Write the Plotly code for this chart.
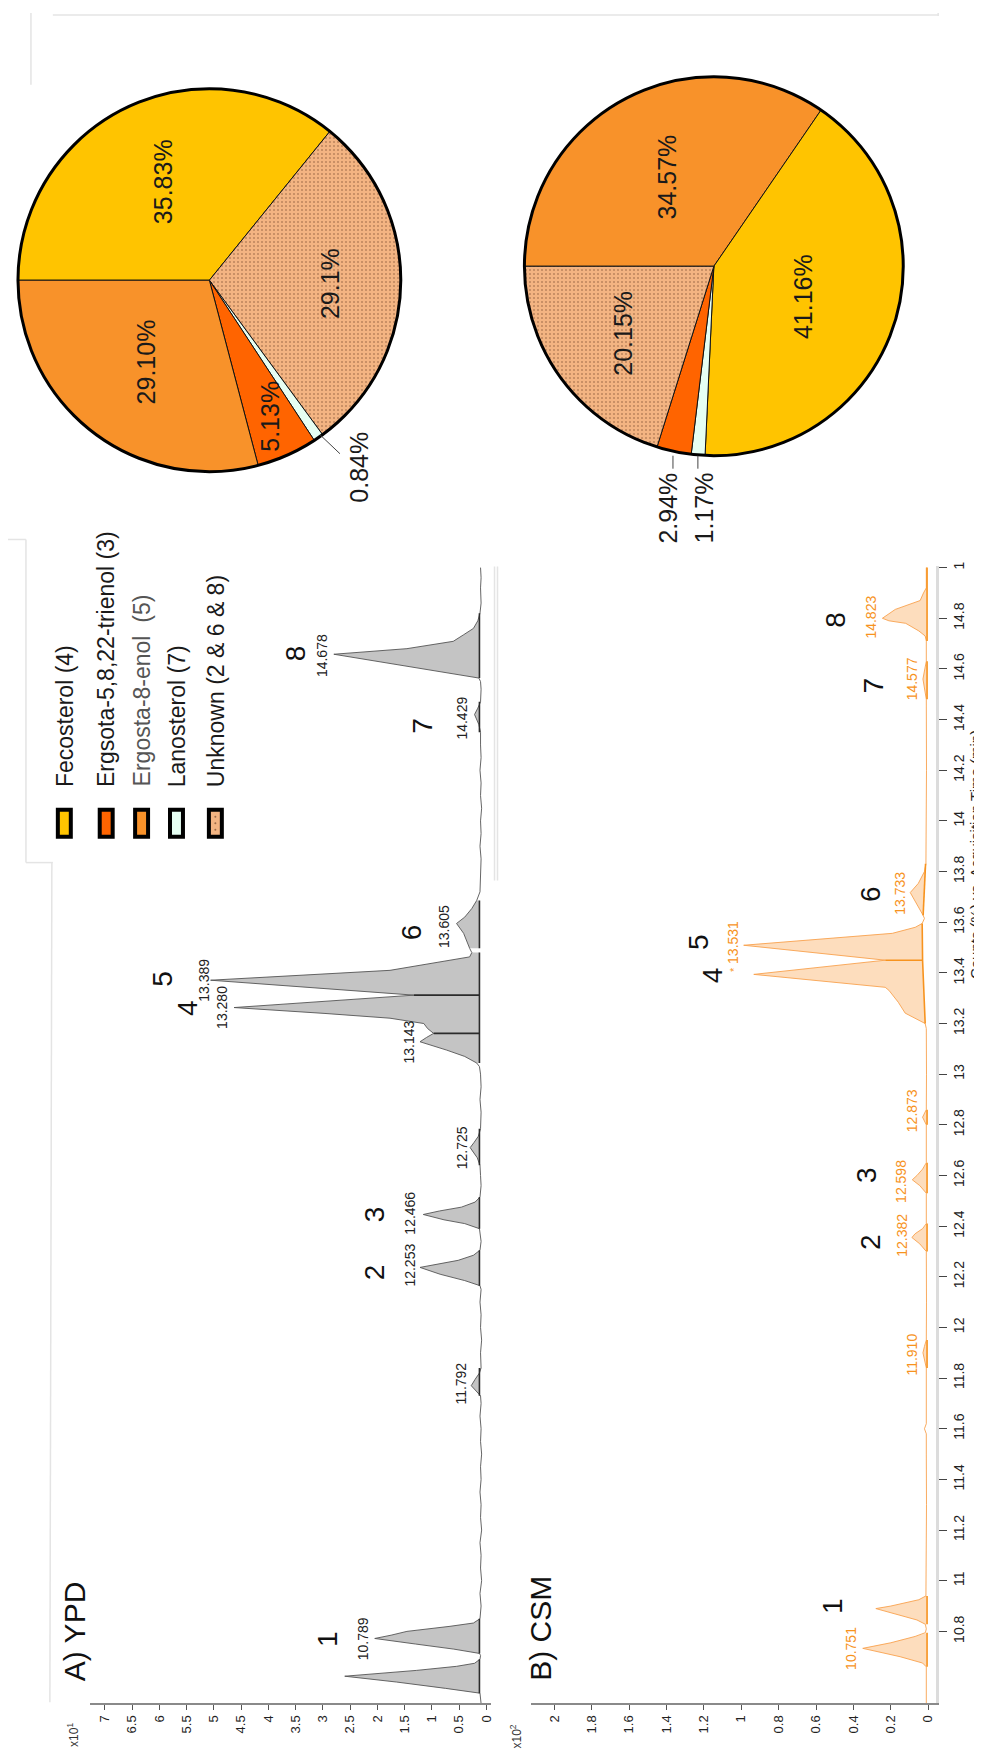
import math
import plotly.graph_objects as go

W, H = 982, 1757
FONT = "Liberation Sans, Arial, Helvetica, sans-serif"

# ---------------- pie data ----------------
PIE_LABELS = ["Fecosterol (4)", "Ergsota-5,8,22-trienol (3)", "Ergosta-8-enol\u00a0 (5)",
              "Lanosterol (7)", "Unknown (2 & 6 & 8)"]
PIE_COLORS = ["#FFC400", "#FF6400", "#F8922A", "#E6FFF3", "#F3B482"]
PIE_PATTERN = ["", "", "", "", "."]
LEGEND_TEXT_COLORS = ["#1a1a1a", "#1a1a1a", "#555555", "#1a1a1a", "#1a1a1a"]

YPD_PIE_ORDER = [0, 4, 3, 1, 2]
YPD_PIE_VALUES = [35.83, 29.1, 0.84, 5.13, 29.10]
YPD_PIE_TEXT = ["35.83%", "29.1%", "0.84%", "5.13%", "29.10%"]

CSM_PIE_ORDER = [2, 0, 3, 1, 4]
CSM_PIE_VALUES = [34.57, 41.16, 1.17, 2.94, 20.15]
CSM_PIE_TEXT = ["34.57%", "41.16%", "1.17%", "2.94%", "20.15%"]

# ---------------- chromatogram data (time in min, counts) ----------------
YPD_TIME = [10.515, 10.54, 10.556, 10.575, 10.60, 10.623, 10.635, 10.646, 10.662, 10.674, 10.69,
            10.705, 10.713, 10.73, 10.75, 10.772, 10.785, 10.80, 10.82, 10.833, 10.85,
            10.90, 10.95, 11.00, 11.05, 11.10, 11.15, 11.20, 11.25, 11.30, 11.35, 11.40, 11.45,
            11.50, 11.55, 11.60, 11.65, 11.70, 11.73, 11.75, 11.77, 11.795, 11.82, 11.84,
            11.90, 11.95, 12.00, 12.05, 12.10, 12.15, 12.165, 12.185, 12.21, 12.237, 12.25,
            12.265, 12.285, 12.305, 12.34, 12.37, 12.39, 12.41, 12.425, 12.446, 12.46, 12.475,
            12.495, 12.515, 12.56, 12.60, 12.64, 12.67, 12.695, 12.71, 12.73, 12.755, 12.785,
            12.85, 12.90, 12.95, 13.00, 13.03, 13.044, 13.07, 13.095, 13.128, 13.145, 13.161,
            13.18, 13.20, 13.221, 13.24, 13.263, 13.312, 13.371, 13.41, 13.463, 13.48, 13.497,
            13.556, 13.595, 13.62, 13.654, 13.686, 13.72, 13.78, 13.85, 13.90, 13.95, 14.00,
            14.05, 14.10, 14.15, 14.20, 14.25, 14.30, 14.35, 14.38, 14.42, 14.445, 14.47,
            14.52, 14.55, 14.564, 14.61, 14.658, 14.68, 14.709, 14.735, 14.76, 14.79, 14.82,
            14.86, 14.92, 14.96, 15.00]
YPD_COUNTS = [0.10, 0.11, 0.12, 0.75, 1.65, 2.60, 1.90, 1.28, 0.55, 0.22, 0.12,
              0.11, 0.13, 0.60, 1.30, 2.05, 1.75, 1.46, 0.67, 0.24, 0.12,
              0.10, 0.12, 0.09, 0.11, 0.10, 0.12, 0.09, 0.11, 0.10, 0.12, 0.10, 0.11,
              0.09, 0.11, 0.10, 0.12, 0.10, 0.11, 0.19, 0.28, 0.21, 0.13, 0.10,
              0.11, 0.09, 0.11, 0.10, 0.12, 0.10, 0.12, 0.40, 0.85, 1.22, 0.92,
              0.52, 0.24, 0.12, 0.10, 0.11, 0.13, 0.40, 0.78, 1.16, 0.86, 0.46,
              0.21, 0.12, 0.10, 0.11, 0.12, 0.17, 0.26, 0.30, 0.23, 0.15, 0.11,
              0.10, 0.12, 0.10, 0.11, 0.13, 0.18, 0.40, 0.73, 1.22, 1.10, 0.97,
              1.08, 1.15, 1.77, 2.98, 4.63, 1.33, 5.06, 1.77, 0.31, 0.27, 0.31,
              0.42, 0.55, 0.40, 0.27, 0.18, 0.12, 0.11, 0.10, 0.12, 0.10, 0.11,
              0.09, 0.11, 0.10, 0.12, 0.10, 0.11, 0.11, 0.14, 0.22, 0.16, 0.11,
              0.10, 0.11, 0.14, 1.46, 2.80, 1.46, 0.61, 0.42, 0.24, 0.16, 0.12,
              0.10, 0.11, 0.10, 0.11]

CSM_TIME = [10.515, 10.60, 10.66, 10.675, 10.70, 10.733, 10.745, 10.755, 10.78, 10.795, 10.81,
            10.828, 10.845, 10.868, 10.89, 10.90, 10.912, 10.925, 10.94, 11.10, 11.30, 11.50,
            11.58, 11.60, 11.62, 11.84, 11.875, 11.90, 11.925, 11.95, 12.10, 12.30, 12.33,
            12.355, 12.37, 12.39, 12.41, 12.53, 12.56, 12.583, 12.60, 12.625, 12.65, 12.80,
            12.83, 12.86, 13.00, 13.18, 13.20, 13.241, 13.284, 13.331, 13.343, 13.394, 13.45,
            13.509, 13.556, 13.58, 13.595, 13.615, 13.627, 13.67, 13.717, 13.753, 13.80,
            13.831, 14.00, 14.20, 14.48, 14.52, 14.56, 14.60, 14.63, 14.71, 14.73, 14.75,
            14.78, 14.79, 14.80, 14.835, 14.87, 14.90, 14.92, 15.00]
CSM_COUNTS = [0.010, 0.008, 0.010, 0.030, 0.150, 0.350, 0.270, 0.200, 0.070, 0.015, 0.010,
              0.015, 0.060, 0.170, 0.280, 0.200, 0.120, 0.050, 0.012, 0.010, 0.009, 0.010,
              0.010, 0.020, 0.010, 0.010, 0.020, 0.028, 0.020, 0.010, 0.009, 0.010, 0.045,
              0.087, 0.070, 0.030, 0.010, 0.010, 0.045, 0.085, 0.060, 0.030, 0.010, 0.010,
              0.030, 0.010, 0.009, 0.010, 0.016, 0.123, 0.160, 0.210, 0.230, 0.933, 0.229,
              0.987, 0.192, 0.069, 0.032, 0.020, 0.027, 0.060, 0.096, 0.053, 0.020,
              0.012, 0.010, 0.009, 0.010, 0.018, 0.028, 0.018, 0.010, 0.010, 0.016, 0.050,
              0.120, 0.210, 0.245, 0.176, 0.043, 0.025, 0.010, 0.010]

# integration baselines: lists of (time, counts) vertices
YPD_BASE = [[(10.556, 0.13), (10.69, 0.13)], [(10.713, 0.13), (10.85, 0.13)],
            [(11.73, 0.13), (11.84, 0.13)], [(12.165, 0.13), (12.305, 0.13)],
            [(12.39, 0.13), (12.515, 0.13)], [(12.64, 0.13), (12.785, 0.13)],
            [(13.044, 0.13), (13.48, 0.13)], [(13.497, 0.13), (13.686, 0.13)],
            [(14.35, 0.13), (14.47, 0.13)], [(14.564, 0.13), (14.82, 0.13)]]
YPD_DROPS = [(13.161, 0.13, 0.97), (13.312, 0.13, 1.33)]
CSM_BASE = [[(10.66, 0.006), (10.795, 0.006)], [(10.828, 0.006), (10.94, 0.006)],
            [(11.84, 0.006), (11.95, 0.006)], [(12.30, 0.006), (12.41, 0.006)],
            [(12.53, 0.006), (12.65, 0.006)], [(12.80, 0.006), (12.86, 0.006)],
            [(13.20, 0.016), (13.45, 0.030), (13.595, 0.032)],
            [(13.627, 0.027), (13.831, 0.014)],
            [(14.48, 0.006), (14.63, 0.006)], [(14.71, 0.006), (15.00, 0.006)]]
CSM_DROPS = [(13.45, 0.03, 0.229)]

# peak labels
PEAK_NUMBERS = ["1", "2", "3", "4", "5", "6", "7", "8"]
YPD_NUM_C = [2.93, 2.05, 2.05, 5.48, 5.94, 1.37, 1.17, 3.51]
YPD_NUM_T = [10.769, 12.217, 12.446, 13.26, 13.375, 13.56, 14.375, 14.662]
YPD_RT_TEXT = ["10.789", "11.792", "12.253", "12.466", "12.725", "13.143", "13.280", "13.389",
               "13.605", "14.429", "14.678"]
YPD_RT_C = [2.25, 0.46, 1.40, 1.40, 0.46, 1.43, 4.84, 5.17, 0.79, 0.44, 3.02]
YPD_RT_T = [10.772, 11.780, 12.245, 12.450, 12.709, 13.127, 13.264, 13.371, 13.583, 14.406, 14.654]

CSM_NUM_C = [0.512, 0.309, 0.331, 1.157, 1.232, 0.309, 0.293, 0.496]
CSM_NUM_T = [10.902, 12.339, 12.603, 13.39, 13.521, 13.713, 14.536, 14.796]
CSM_RT_TEXT = ["10.751", "11.910", "12.382", "12.598", "12.873",
               "<span style='font-size:11px'>*</span> 13.531", "13.733", "14.577", "14.823"]
CSM_RT_C = [0.41, 0.085, 0.144, 0.149, 0.085, 1.045, 0.155, 0.085, 0.304]
CSM_RT_T = [10.733, 11.894, 12.363, 12.576, 12.855, 13.505, 13.713, 14.56, 14.804]

# axis ticks
TIME_TICKS = [10.8, 11.0, 11.2, 11.4, 11.6, 11.8, 12.0, 12.2, 12.4, 12.6, 12.8,
              13.0, 13.2, 13.4, 13.6, 13.8, 14.0, 14.2, 14.4, 14.6, 14.8, 15.0]
TIME_TICK_TEXT = ["10.8", "11", "11.2", "11.4", "11.6", "11.8", "12", "12.2", "12.4", "12.6",
                  "12.8", "13", "13.2", "13.4", "13.6", "13.8", "14", "14.2", "14.4", "14.6",
                  "14.8", "1"]
YPD_COUNT_TICKS = [0, 0.5, 1, 1.5, 2, 2.5, 3, 3.5, 4, 4.5, 5, 5.5, 6, 6.5, 7]
YPD_COUNT_TEXT = ["0", "0.5", "1", "1.5", "2", "2.5", "3", "3.5", "4", "4.5", "5", "5.5", "6", "6.5", "7"]
CSM_COUNT_TICKS = [0, 0.2, 0.4, 0.6, 0.8, 1.0, 1.2, 1.4, 1.6, 1.8, 2.0]
CSM_COUNT_TEXT = ["0", "0.2", "0.4", "0.6", "0.8", "1", "1.2", "1.4", "1.6", "1.8", "2"]

YPD_FILL, YPD_LINE, YPD_BASE_COLOR = "#C4C4C4", "#555555", "#2b2b2b"
CSM_FILL, CSM_LINE, CSM_BASE_COLOR = "#FDDDBD", "#F8A24E", "#F7931E"


def px(x):
    return x / W


def py(y):
    return 1 - y / H


fig = go.Figure()
annotations = []
shapes = []

# ---------------- chromatograms ----------------
T_LO = 10.8 + (1623 - 1695) / 254.0
T_HI = 10.8 + (1623 - 555) / 254.0


def add_chrom(times, counts, bases, drops, fill, line, base_color, xa, ya):
    for base in bases:
        t0, t1 = base[0][0], base[-1][0]
        pts = [(t, c) for t, c in zip(times, counts) if t0 <= t <= t1]
        poly = pts + base[::-1]
        fig.add_trace(go.Scatter(x=[p[1] for p in poly], y=[p[0] for p in poly], mode="lines",
                                 fill="toself", fillcolor=fill, line=dict(width=0),
                                 xaxis=xa, yaxis=ya, hoverinfo="skip", showlegend=False))
    fig.add_trace(go.Scatter(x=counts, y=times, mode="lines", line=dict(color=line, width=0.9),
                             xaxis=xa, yaxis=ya, hoverinfo="skip", showlegend=False))
    bx, by = [], []
    for base in bases:
        bx += [p[1] for p in base] + [None]
        by += [p[0] for p in base] + [None]
    for t, c0, c in drops:
        bx += [c0, c, None]
        by += [t, t, None]
    fig.add_trace(go.Scatter(x=bx, y=by, mode="lines", line=dict(color=base_color, width=1.6),
                             xaxis=xa, yaxis=ya, hoverinfo="skip", showlegend=False,
                             connectgaps=False))


add_chrom(YPD_TIME, YPD_COUNTS, YPD_BASE, YPD_DROPS, YPD_FILL, YPD_LINE, YPD_BASE_COLOR, "x", "y")
add_chrom(CSM_TIME, CSM_COUNTS, CSM_BASE, CSM_DROPS, CSM_FILL, CSM_LINE, CSM_BASE_COLOR, "x2", "y2")


def rot_text(x, y, text, size, color, xref="paper", yref="paper", xanchor="center", yanchor="middle"):
    annotations.append(dict(x=x, y=y, xref=xref, yref=yref, text=text, textangle=-90,
                            showarrow=False, xanchor=xanchor, yanchor=yanchor,
                            font=dict(size=size, color=color, family=FONT)))


for n, c, t in zip(PEAK_NUMBERS, YPD_NUM_C, YPD_NUM_T):
    rot_text(c, t, n, 28, "#111111", "x", "y")
for s, c, t in zip(YPD_RT_TEXT, YPD_RT_C, YPD_RT_T):
    rot_text(c, t, s, 14, "#222222", "x", "y")
for n, c, t in zip(PEAK_NUMBERS, CSM_NUM_C, CSM_NUM_T):
    rot_text(c, t, n, 28, "#111111", "x2", "y2")
for s, c, t in zip(CSM_RT_TEXT, CSM_RT_C, CSM_RT_T):
    rot_text(c, t, s, 14, "#F7931E", "x2", "y2")

rot_text(px(67), py(1623), "A) YPD", 30, "#111111")
rot_text(px(534), py(1620), "B) CSM", 30, "#111111")
rot_text(px(65), py(1727), "x10<sup>1</sup>", 12, "#333333")
rot_text(px(510), py(1728), "x10<sup>2</sup>", 12, "#333333")
rot_text(px(981), py(844), "Counts (%) vs. Acquisition Time (min)", 15, "#222222", xanchor="right")

# ---------------- pies ----------------
YPD_PIE_GEOM = (202, 268, 192)
CSM_PIE_GEOM = (708, 254, 190)
YPD_LABEL_R = [0.57, 0.63, None, 0.78, 0.54]
CSM_LABEL_R = [0.53, 0.50, None, None, 0.60]
YPD_OUTSIDE = {"0.84%": (352, 455)}
CSM_OUTSIDE = {"1.17%": (698, 496), "2.94%": (662, 496)}


def add_pie(values, order, texts, radii, geom, outside):
    cx, cy, R = geom
    fig.add_trace(go.Pie(
        values=values, labels=[PIE_LABELS[i] for i in order], sort=False,
        direction="clockwise", rotation=270, textinfo="none", hoverinfo="skip",
        showlegend=False,
        marker=dict(colors=[PIE_COLORS[i] for i in order], line=dict(color="#111111", width=1),
                    pattern=dict(shape=[PIE_PATTERN[i] for i in order], fillmode="overlay",
                                 fgcolor="#8a5a3a", size=4, solidity=0.22)),
        domain=dict(x=[px(cx - R), px(cx + R)], y=[py(cy + R), py(cy - R)])))
    shapes.append(dict(type="circle", xref="paper", yref="paper", x0=px(cx - R), x1=px(cx + R),
                       y0=py(cy + R), y1=py(cy - R), line=dict(color="#000000", width=3)))
    total = sum(values)
    cum = 0.0
    for v, t, f in zip(values, texts, radii):
        mid = math.radians(180 - 360 * (cum + v / 2) / total)
        cum += v
        if f is None:
            x, y = outside[t]
        else:
            x, y = cx + f * R * math.cos(mid), cy - f * R * math.sin(mid)
        rot_text(px(x), py(y), t, 25, "#1a1a1a")


add_pie(YPD_PIE_VALUES, YPD_PIE_ORDER, YPD_PIE_TEXT, YPD_LABEL_R, YPD_PIE_GEOM, YPD_OUTSIDE)
add_pie(CSM_PIE_VALUES, CSM_PIE_ORDER, CSM_PIE_TEXT, CSM_LABEL_R, CSM_PIE_GEOM, CSM_OUTSIDE)

# leader lines for the small slices
for (x0, y0, x1, y1) in [(313, 423, 333, 442), (667, 444, 667, 457), (692, 444, 692, 457)]:
    shapes.append(dict(type="line", xref="paper", yref="paper", x0=px(x0), y0=py(y0),
                       x1=px(x1), y1=py(y1), line=dict(color="#444444", width=1)))

# ---------------- legend (rotated) ----------------
LEGEND_X = [56.5, 98.5, 134, 169, 208]
for i, lx in enumerate(LEGEND_X):
    shapes.append(dict(type="rect", xref="paper", yref="paper", x0=px(lx - 6.5), x1=px(lx + 6.5),
                       y0=py(826), y1=py(799), fillcolor=PIE_COLORS[i],
                       line=dict(color="#000000", width=4)))
    rot_text(px(lx), py(778), PIE_LABELS[i], 23, LEGEND_TEXT_COLORS[i], yanchor="bottom")
# dots on the "Unknown" swatch
for yy in [806, 812.5, 819]:
    shapes.append(dict(type="circle", xref="paper", yref="paper", x0=px(207), x1=px(209),
                       y0=py(yy + 1), y1=py(yy - 1), fillcolor="#9a6a48", line=dict(width=0)))

# faint frame lines
for (x0, y0, x1, y1) in [(45, 2, 933, 2), (23, 0, 23, 72), (18, 528, 18, 852), (0, 528, 18, 528),
                         (18, 852, 45, 852), (44, 852, 42, 1694), (488, 555, 488, 870),
                         (491, 555, 491, 870), (933, 0, 933, 3)]:
    shapes.append(dict(type="line", xref="paper", yref="paper", x0=px(x0), y0=py(y0),
                       x1=px(x1), y1=py(y1), line=dict(color="#E4E4E4", width=1.5)))

axis_common = dict(showgrid=False, zeroline=False, fixedrange=True)
fig.update_layout(
    width=W, height=H, margin=dict(l=0, r=0, t=0, b=0),
    paper_bgcolor="white", plot_bgcolor="rgba(0,0,0,0)", showlegend=False,
    font=dict(family=FONT, color="#222222"),
    xaxis=dict(domain=[px(82), px(484)], range=[(480 - 82) / 54.7, (480 - 484) / 54.7],
               anchor="y", showline=True, linecolor="#8a8a8a", linewidth=2, ticks="outside",
               ticklen=5, tickcolor="#555555", tickvals=YPD_COUNT_TICKS, ticktext=YPD_COUNT_TEXT,
               tickangle=-90, tickfont=dict(size=13, color="#222222"), **axis_common),
    yaxis=dict(domain=[py(1695), py(555)], range=[T_LO, T_HI], anchor="x", visible=False,
               **axis_common),
    xaxis2=dict(domain=[px(525), px(931)], range=[(923 - 525) / 187.5, (923 - 931) / 187.5],
                anchor="y2", showline=True, linecolor="#8a8a8a", linewidth=2, ticks="outside",
                ticklen=5, tickcolor="#555555", tickvals=CSM_COUNT_TICKS, ticktext=CSM_COUNT_TEXT,
                tickangle=-90, tickfont=dict(size=13, color="#222222"), **axis_common),
    yaxis2=dict(domain=[py(1695), py(555)], range=[T_LO, T_HI], anchor="x2", side="right",
                showline=True, linecolor="#DCDCDC", linewidth=3, ticks="outside", ticklen=8,
                tickcolor="#444444", tickvals=TIME_TICKS, ticktext=TIME_TICK_TEXT, tickangle=-90,
                tickfont=dict(size=14, color="#222222"), **axis_common),
    annotations=annotations, shapes=shapes,
)

fig.write_html("out.html", config={"displayModeBar": False})
